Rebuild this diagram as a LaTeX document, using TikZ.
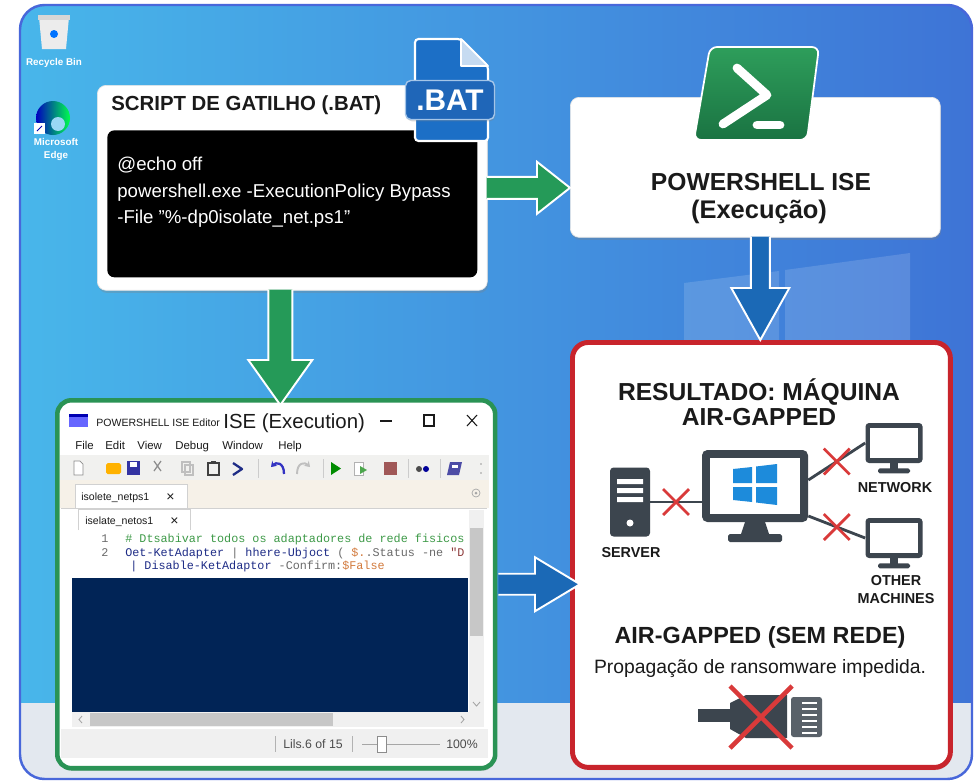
\documentclass[tikz,border=0pt]{standalone}
\usepackage{fontspec}
\setmainfont{Liberation Sans}
\setmonofont{Liberation Mono}
\usetikzlibrary{positioning,calc,shadows,shapes.misc,arrows.meta}

\definecolor{ink}{HTML}{1A1A1A}
\definecolor{deskL}{HTML}{48B6EA}
\definecolor{deskR}{HTML}{3E74D6}
\definecolor{deskrim}{HTML}{4867DA}
\definecolor{taskbar}{HTML}{E3E8EF}
\definecolor{psgreenL}{HTML}{2E9E5B}
\definecolor{psgreenD}{HTML}{1A7342}
\definecolor{flowgreen}{HTML}{259A58}
\definecolor{flowblue}{HTML}{1B69B6}
\definecolor{batblue}{HTML}{1C6FC6}
\definecolor{batdark}{HTML}{1F66B8}
\definecolor{isegreen}{HTML}{2A9355}
\definecolor{resred}{HTML}{C8242C}
\definecolor{iconslate}{HTML}{3C454E}
\definecolor{xred}{HTML}{D93A3A}
\definecolor{winblue}{HTML}{1D8BDB}
\definecolor{psnavy}{HTML}{012456}
\definecolor{cmdblue}{HTML}{1E2C86}
\definecolor{cmtgreen}{HTML}{3E9A48}
\definecolor{varorange}{HTML}{D27A3C}
\definecolor{strred}{HTML}{8E3B3B}
\definecolor{opgray}{HTML}{6A6A6A}
\definecolor{barbg}{HTML}{F1F1EF}
\definecolor{tabbg}{HTML}{F6F1E8}
\definecolor{stopred}{HTML}{A05858}

\begin{document}
\begin{tikzpicture}[
    x=0.02cm, y=-0.02cm,
    every node/.style={inner sep=0pt, text=ink},
    card/.style={fill=white, draw=black!10, rounded corners=5pt, anchor=north west,
      drop shadow={shadow xshift=0.5pt, shadow yshift=-1.5pt, opacity=0.3}},
    flow/.style={draw=white, line width=1.1pt, line join=miter},
    head/.style={anchor=base, font=\fontsize{14}{16}\selectfont\bfseries},
    cmd/.style={anchor=base west, text=white, font=\fontsize{10.6}{12}\selectfont},
    tag/.style={anchor=base, font=\fontsize{8.2}{9}\selectfont\bfseries},
    wire/.style={draw=iconslate, line width=1.6pt},
    xmark/.style={cross out, draw=xred, line width=1.6pt, minimum size=0.46cm},
    menu/.style={anchor=base west, font=\fontsize{6.5}{7}\selectfont},
    src/.style={anchor=base west, font=\ttfamily\fontsize{6.7}{8}\selectfont},
    small/.style={anchor=base west, font=\fontsize{6}{7}\selectfont},
    tiny/.style={anchor=base, text=white, font=\fontsize{5.6}{6}\selectfont\bfseries},
    screen/.style={fill=iconslate, rounded corners=2pt}
  ]
  \fill[white] (0,0) rectangle (979,781);
  \useasboundingbox (0,0) rectangle (979,781);

  % desktop
  \begin{scope}
    \clip[rounded corners=14pt] (20,5) rectangle (972,779);
    \shade[left color=deskL, right color=deskR] (20,5) rectangle (972,779);
    \fill[taskbar] (20,703) rectangle (972,779);
    \fill[white, opacity=0.14] (684,283) -- (779,271) -- (779,345) -- (684,345) -- cycle
      (785,270) -- (910,253) -- (910,345) -- (785,345) -- cycle;
  \end{scope}
  \draw[deskrim, line width=1.4pt, rounded corners=14pt] (20,5) rectangle (972,779);

  % desktop icons
  \fill[white!85!gray] (39,17) -- (69,17) -- (66,49) -- (42,49) -- cycle;
  \fill[white!68!gray] (38,15) rectangle (70,20);
  \fill[blue!55!cyan] (54,34) circle (4);
  \node[tiny] (binlbl) at (54,65) {Recycle Bin};
  \shade[left color=blue!75!black, right color=green!70!cyan] (53,118) circle (17);
  \fill[deskL!55!white] (58,124) circle (7);
  \fill[white] (34,123) rectangle (45,134);
  \draw[blue!70!black, line width=0.6pt] (37,131) -- (42,126);
  \node[tiny] (edgelbl1) at (56,145) {Microsoft};
  \node[tiny] (edgelbl2) at (56,158) {Edge};

  % boxes
  \node[card, minimum width=7.8cm, minimum height=4.1cm] (bat) at (97,85) {};
  \node[fill=black, rounded corners=4pt, minimum width=7.4cm, minimum height=2.94cm,
    below right=0.9cm and 0.2cm of bat.north west] (code) {};
  \node[card, minimum width=7.4cm, minimum height=2.8cm] (ps) at (570,97) {};
  \node[card, draw=isegreen, line width=2.6pt, rounded corners=8pt,
    minimum width=8.76cm, minimum height=7.36cm] (ise) at (55,398) {};
  \node[card, draw=resred, line width=2.8pt, rounded corners=9pt,
    minimum width=7.56cm, minimum height=8.5cm] (res) at (570,340) {};

  % trigger script
  \node[anchor=base west, font=\fontsize{11.6}{14}\selectfont\bfseries] (battitle) at (111,110) {SCRIPT DE GATILHO (.BAT)};
  \node[cmd] (line1) at (117,170) {@echo off};
  \node[cmd] (line2) at (117,197) {powershell.exe -ExecutionPolicy Bypass};
  \node[cmd] (line3) at (117,223) {-File "\%-dp0isolate\_net.ps1"};
  \path[fill=batblue, draw=white, line width=1.2pt, rounded corners=2pt]
    (415,141) -- (415,39) -- (461,39) -- (488,66) -- (488,141) -- cycle;
  \path[fill=white!75!batblue, draw=white, line width=1pt, line join=round]
    (461,39) -- (461,66) -- (488,66) -- cycle;
  \node[fill=batdark, draw=white!60!batblue, line width=0.8pt, rounded corners=3pt,
    minimum width=1.78cm, minimum height=0.78cm, text=white,
    font=\fontsize{17}{18}\selectfont\bfseries,
    drop shadow={opacity=0.3, shadow yshift=-1pt, shadow xshift=0.5pt}] (batext) at (450,100) {.BAT};

  % powershell
  \path[draw=white, line width=1pt, top color=psgreenL, bottom color=psgreenD, rounded corners=4pt]
    (710,47) -- (819,47) -- (807,140) -- (694,140) -- cycle;
  \draw[white, line width=5pt, line cap=round, line join=round] (737,68) -- (767,95) -- (723,124);
  \draw[white, line width=5pt, line cap=round] (757,125) -- (780,125);
  \node[head] (pstitle) at (761,190) {POWERSHELL ISE};
  \node[head, font=\fontsize{14.5}{16}\selectfont\bfseries] (psmode) at (759,218) {(Execução)};

  % ise window
  \fill[blue!60!white] (69,414) rectangle (88,427);
  \fill[blue!70!black] (69,414) rectangle (88,417);
  \node[small] (isename) at (96,426) {POWERSHELL ISE Editor};
  \node[anchor=base west, font=\fontsize{11.6}{13}\selectfont] (isetitle) at (223,428) {ISE (Execution)};
  \draw[ink, line width=0.6pt] (380,421) -- (392,421);
  \draw[ink, line width=0.6pt] (424,415) rectangle (434,426);
  \draw[ink, line width=0.6pt] (467,415) -- (477,426) (477,415) -- (467,426);
  \node[menu] (mfile) at (75,449) {File};
  \node[menu] (medit) at (105,449) {Edit};
  \node[menu] (mview) at (137,449) {View};
  \node[menu] (mdebug) at (175,449) {Debug};
  \node[menu] (mwin) at (222,449) {Window};
  \node[menu] (mhelp) at (278,449) {Help};
  % toolbar
  \fill[barbg] (60,455) rectangle (489,480);
  \draw[black!45, fill=white] (74,461) -- (80,461) -- (83,464) -- (83,475) -- (74,475) -- cycle;
  \fill[orange!60!yellow, rounded corners=1pt] (106,463) rectangle (121,474);
  \fill[blue!55!black!80] (127,461) rectangle (140,475);
  \fill[white] (130,462) rectangle (137,467);
  \draw[black!45, line width=0.7pt] (154,461) -- (161,471) (161,461) -- (154,471);
  \draw[black!25, line width=0.6pt] (182,462) rectangle (190,472) (185,465) rectangle (193,475);
  \draw[black!75, line width=0.9pt] (208,463) rectangle (219,475);
  \fill[black!75] (211,461) rectangle (216,464);
  \draw[cmdblue, line width=1.3pt, line join=round] (233,463) -- (242,469) -- (233,475);
  \draw[black!20] (258,459) -- (258,478) (323,459) -- (323,478) (408,459) -- (408,478) (440,459) -- (440,478);
  \draw[blue!70!black!80, line width=1.3pt, -{Stealth[length=3pt, width=4pt]}]
    (284,474) .. controls (284,462) and (276,462) .. (271,467);
  \draw[black!25, line width=1.1pt, -{Stealth[length=3pt, width=4pt]}]
    (297,474) .. controls (297,462) and (305,462) .. (310,467);
  \fill[green!55!black] (331,462) -- (341,468.5) -- (331,475) -- cycle;
  \draw[black!30, fill=white] (354,462) rectangle (363,475);
  \fill[green!50!black!70] (360,466) -- (367,470) -- (360,474) -- cycle;
  \fill[stopred] (384,462) rectangle (397,475);
  \fill[black!70] (419,469) circle (3);
  \fill[blue!60!black] (426,469) circle (3);
  \fill[blue!50!black!70] (450,462) -- (462,462) -- (459,475) -- (447,475) -- cycle;
  \fill[white] (452,465) rectangle (458,468);
  \fill[black!40] (481,464) circle (0.9) (481,473) circle (0.9);
  % tabs
  \fill[tabbg] (60,480) rectangle (489,508);
  \draw[black!18, fill=white] (75,508) -- (75,484) -- (187,484) -- (187,508);
  \node[small] (tab1) at (81,500) {isolete\_netps1};
  \node[small, font=\fontsize{8}{9}\selectfont] (tab1x) at (166,501) {×};
  \draw[black!35] (476,493) circle (4);
  \fill[black!35] (476,493) circle (1.5);
  \fill[white] (61,508) rectangle (487,712);
  \draw[black!18] (61,508) -- (487,508);
  \draw[black!18, fill=white] (78,530) -- (78,509) -- (190,509) -- (190,530);
  \node[small] (tab2) at (85,524) {iselate\_netos1};
  \node[small, font=\fontsize{8}{9}\selectfont] (tab2x) at (170,525) {×};
  % script pane
  \node[src, text=opgray] (ln1) at (101,542) {1};
  \node[src, text=opgray] (ln2) at (101,556) {2};
  \begin{scope}
    \clip (72,530) rectangle (468,578);
    \node[src] (src1) at (125,542) {\color{cmtgreen}\# Dtsabivar todos os adaptadores de rede fisicos};
    \node[src] (src2) at (125,556) {{\color{cmdblue}Oet-KetAdapter} {\color{opgray}|} {\color{cmdblue}hhere-Ubjoct} {\color{opgray}( }{\color{varorange}\$.}{\color{opgray}.Status -ne }{\color{strred}"D}};
    \node[src] (src3) at (130,569) {{\color{cmdblue}| Disable-KetAdaptor} {\color{opgray}-Confirm:}{\color{varorange}\$False}};
  \end{scope}
  % console and scroll bars
  \fill[psnavy] (72,578) rectangle (468,712);
  \fill[black!6] (469,510) rectangle (484,712);
  \fill[black!22] (470,528) rectangle (483,636);
  \draw[black!35, line width=0.5pt] (473,702) -- (476.5,706) -- (480,702);
  \fill[black!6] (72,712) rectangle (484,727);
  \fill[black!22] (90,713) rectangle (333,726);
  \draw[black!35, line width=0.5pt] (82,716) -- (79,719.5) -- (82,723) (461,716) -- (464,719.5) -- (461,723);
  \fill[black!6] (61,729) rectangle (488,758);
  \draw[black!30] (275,736) -- (275,752) (352,736) -- (352,752);
  \node[anchor=base, font=\fontsize{7}{8}\selectfont, text=black!70] (lines) at (313,748) {Lils.6 of 15};
  \draw[black!35] (362,744) -- (440,744);
  \draw[black!45, fill=white] (377,736) rectangle (386,752);
  \node[anchor=base, font=\fontsize{7}{8}\selectfont, text=black!70] (zoom) at (462,748) {100\%};

  % air-gapped result
  \node[head] (restitle) at (759,400) {RESULTADO: MÁQUINA};
  \node[head] (resmode) at (759,425) {AIR-GAPPED};
  \node[screen, rounded corners=3pt, minimum width=2.12cm, minimum height=1.44cm] (pc) at (755,486) {};
  \fill[white] ($(pc.north west)+(8,8)$) rectangle ($(pc.south east)+(-8,-8)$);
  \begin{scope}[shift={(pc)}]
    \fill[winblue] (-22,-17) -- (-3,-19) -- (-3,-3) -- (-22,-3) -- cycle
      (1,-19.5) -- (22,-22) -- (22,-3) -- (1,-3) -- cycle
      (-22,1) -- (-3,1) -- (-3,16) -- (-22,14) -- cycle
      (1,1) -- (22,1) -- (22,19) -- (1,16.5) -- cycle;
    \fill[iconslate] (-10,36) -- (10,36) -- (14,48) -- (-14,48) -- cycle;
    \fill[iconslate, rounded corners=1pt] (-27,48) rectangle (27,56);
  \end{scope}
  \node[screen, minimum width=0.8cm, minimum height=1.38cm] (srv) at (630,502) {};
  \begin{scope}[shift={(srv)}]
    \fill[white] (-13,-23) rectangle (13,-18) (-13,-14) rectangle (13,-9) (-13,-5) rectangle (13,0);
    \fill[white] (0,21) circle (3.5);
  \end{scope}
  \node[screen, minimum width=1.14cm, minimum height=0.8cm] (net) at (894,443) {};
  \node[screen, minimum width=1.14cm, minimum height=0.8cm] (oth) at (894,538) {};
  \foreach \m in {net, oth} {
    \fill[white] ($(\m.north west)+(5,5)$) rectangle ($(\m.south east)+(-5,-5)$);
    \fill[iconslate] ($(\m.south)+(-4,0)$) rectangle ($(\m.south)+(4,6)$);
    \fill[iconslate, rounded corners=1pt] ($(\m.south)+(-16,5)$) rectangle ($(\m.south)+(16,10)$);
  }
  \draw[wire] (srv.east) -- (srv.east -| pc.west) node[xmark, midway] {};
  \draw[wire] ($(pc.east)+(0,-6)$) -- (net.west) node[xmark, midway] {};
  \draw[wire] ($(pc.east)+(0,30)$) -- (oth.west) node[xmark, midway] {};
  \node[tag] (srvlbl) at (631,557) {SERVER};
  \node[tag] (netlbl) at (895,492) {NETWORK};
  \node[tag] (othlbl1) at (896,585) {OTHER};
  \node[tag] (othlbl2) at (896,603) {MACHINES};
  \node[head, font=\fontsize{13.3}{15}\selectfont\bfseries] (gapped) at (760,643) {AIR-GAPPED (SEM REDE)};
  \node[anchor=base, font=\fontsize{11}{13}\selectfont] (blocked) at (760,673) {Propagação de ransomware impedida.};
  \begin{scope}[shift={(760,716)}]
    \fill[iconslate] (-62,-7) rectangle (-28,6);
    \fill[iconslate] (-30,-13) -- (-14,-21) -- (27,-21) -- (27,22) -- (-14,22) -- (-30,13) -- cycle;
    \fill[iconslate!85!white, rounded corners=1.5pt] (31,-19) rectangle (62,21);
    \foreach \s in {-13,-7,...,17}
      \fill[white] (42,\s-1.4) rectangle (57,\s+1.4);
    \draw[xred, line width=2.6pt] (-30,-30) -- (32,32) (32,-30) -- (-30,32);
  \end{scope}

  % flow arrows
  \coordinate (g1s) at (bat.east);
  \coordinate (g1t) at (bat.east -| ps.west);
  \path[flow, fill=flowgreen] ($(g1s)+(-1,-11)$) -- ($(g1t)+(-33,-11)$) -- ($(g1t)+(-33,-26)$)
    -- (g1t) -- ($(g1t)+(-33,26)$) -- ($(g1t)+(-33,11)$) -- ($(g1s)+(-1,11)$);
  \coordinate (g2s) at ($(bat.south)+(-12,0)$);
  \coordinate (g2e) at (g2s |- ise.north);
  \coordinate (g2t) at ($(g2e)+(0,7)$);
  \path[flow, fill=flowgreen] ($(g2s)+(-12,-1)$) -- ($(g2t)+(-12,-45)$) -- ($(g2t)+(-32,-45)$)
    -- (g2t) -- ($(g2t)+(32,-45)$) -- ($(g2t)+(12,-45)$) -- ($(g2s)+(12,-1)$);
  \coordinate (b1s) at ($(ps.south)+(5,0)$);
  \coordinate (b1t) at (b1s |- res.north);
  \path[flow, fill=flowblue] ($(b1s)+(-9.5,-1)$) -- ($(b1t)+(-9.5,-52)$) -- ($(b1t)+(-29,-52)$)
    -- (b1t) -- ($(b1t)+(29,-52)$) -- ($(b1t)+(9.5,-52)$) -- ($(b1s)+(9.5,-1)$);
  \coordinate (b2s) at (ise.east);
  \coordinate (b2e) at (ise.east -| res.west);
  \coordinate (b2t) at ($(b2e)+(10,0)$);
  \path[flow, fill=flowblue] ($(b2s)+(1,-10.5)$) -- ($(b2t)+(-45,-10.5)$) -- ($(b2t)+(-45,-27)$)
    -- (b2t) -- ($(b2t)+(-45,27)$) -- ($(b2t)+(-45,10.5)$) -- ($(b2s)+(1,10.5)$);
\end{tikzpicture}
\end{document}
